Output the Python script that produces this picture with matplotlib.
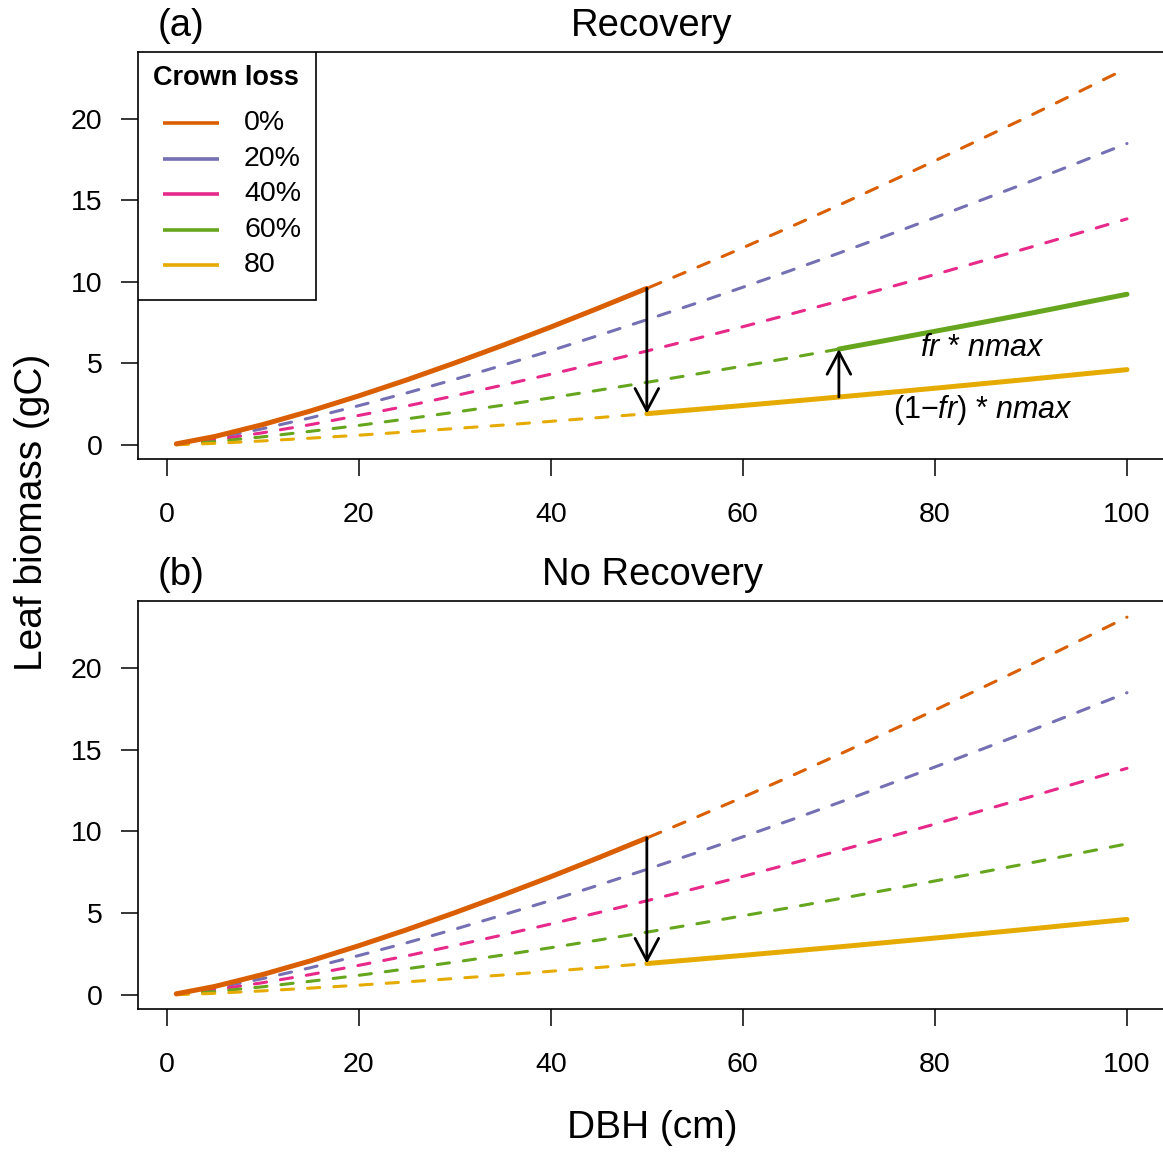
import numpy as np
import matplotlib.pyplot as plt
from matplotlib.patches import Rectangle

plt.rcParams['font.family'] = ['Liberation Sans', 'DejaVu Sans']
plt.rcParams['mathtext.fontset'] = 'custom'
plt.rcParams['mathtext.rm'] = 'Liberation Sans'
plt.rcParams['mathtext.it'] = 'Liberation Sans:italic'

# DBH (cm) and leaf biomass (gC) for each crown-loss level
dbh = [1, 5, 10, 15, 20, 25, 30, 35, 40, 45, 50, 55, 60, 65, 70, 75, 80, 85, 90, 95, 100]
leaf_0 = [0.07, 0.52, 1.25, 2.09, 3.01, 3.99, 5.03, 6.11, 7.23, 8.4, 9.6, 10.83, 12.09, 13.38, 14.7,
          16.05, 17.42, 18.81, 20.21, 21.65, 23.1]
leaf_20 = [0.054, 0.42, 1.0, 1.67, 2.41, 3.19, 4.02, 4.89, 5.78, 6.72, 7.68, 8.66, 9.67, 10.7, 11.76,
           12.84, 13.94, 15.05, 16.17, 17.32, 18.48]
leaf_40 = [0.041, 0.31, 0.75, 1.25, 1.81, 2.39, 3.02, 3.67, 4.34, 5.04, 5.76, 6.5, 7.25, 8.03, 8.82,
           9.63, 10.45, 11.29, 12.13, 12.99, 13.86]
leaf_60 = [0.027, 0.21, 0.5, 0.84, 1.2, 1.6, 2.01, 2.44, 2.89, 3.36, 3.84, 4.33, 4.84, 5.35, 5.88,
           6.42, 6.97, 7.52, 8.08, 8.66, 9.24]
leaf_80 = [0.014, 0.1, 0.25, 0.42, 0.6, 0.8, 1.01, 1.22, 1.45, 1.68, 1.92, 2.17, 2.42, 2.68, 2.94,
           3.21, 3.48, 3.76, 4.04, 4.33, 4.62]

crown_loss = ['0%', '20%', '40%', '60%', '80']
colors = ['#D95F02', '#7570B3', '#E7298A', '#66A61E', '#E6AB02']
x_ticks = [0, 20, 40, 60, 80, 100]
y_ticks = [0, 5, 10, 15, 20]

dbh = np.array(dbh)
series = [np.array(s) for s in (leaf_0, leaf_20, leaf_40, leaf_60, leaf_80)]

W, H = 1163, 1153
fig = plt.figure(figsize=(W / 100, H / 100), dpi=100)

# plot regions in pixels: left, right, top, bottom
A_BOX = (137.7, 1165, 52.3, 458.7)
B_BOX = (137.7, 1165, 601.3, 1008.7)


def px_box(left, right, top, bottom):
    return [left / W, 1 - bottom / H, (right - left) / W, (bottom - top) / H]


ax_a = fig.add_axes(px_box(*A_BOX))
ax_b = fig.add_axes(px_box(*B_BOX))

lw_dash = 2.2
lw_solid = 3.6


def base_panel(ax):
    ax.set_xlim(-3.02, 103.96)
    ax.set_ylim(-0.84, 24.07)
    ax.set_xticks(x_ticks)
    ax.set_yticks(y_ticks)
    ax.tick_params(direction='out', length=12.5, width=1.1, labelsize=20.5)
    ax.tick_params(axis='x', pad=18.5)
    ax.tick_params(axis='y', pad=13)
    for sp in ax.spines.values():
        sp.set_linewidth(1.2)
    # dashed curves for all crown loss levels
    for s, c in zip(series, colors):
        ax.plot(dbh, s, color=c, lw=lw_dash, dashes=(4, 4.6), dash_capstyle='round')
    # undamaged tree up to 50 cm, then 80% crown loss
    m = dbh <= 50
    ax.plot(dbh[m], series[0][m], color=colors[0], lw=lw_solid, solid_capstyle='round')
    m = dbh >= 50
    ax.plot(dbh[m], series[4][m], color=colors[4], lw=lw_solid, solid_capstyle='round')


def arrow(ax, x, y0, y1):
    ax.annotate('', xy=(x, y1), xytext=(x, y0),
                arrowprops=dict(arrowstyle='->,head_length=1.6,head_width=0.85',
                                lw=2.0, color='black', shrinkA=0, shrinkB=0,
                                mutation_scale=10))


i50 = list(dbh).index(50)
i70 = list(dbh).index(70)

# (a) recovery
base_panel(ax_a)
m = dbh >= 70
ax_a.plot(dbh[m], series[3][m], color=colors[3], lw=lw_solid, solid_capstyle='round')
arrow(ax_a, 50, series[0][i50], series[4][i50])
arrow(ax_a, 70, series[4][i70], series[3][i70])
ax_a.text(85, 5.95, r'$\mathit{fr}$ * $\mathit{nmax}$', fontsize=22, ha='center', va='center')
ax_a.text(85, 2.15, r'(1$-\mathit{fr}$) * $\mathit{nmax}$', fontsize=22, ha='center', va='center')

# legend box drawn in axes fraction coordinates
left, right, top, bottom = A_BOX


def fx(px):
    return (px - left) / (right - left)


def fy(py):
    return (bottom - py) / (bottom - top)


ax_a.add_patch(Rectangle((0, fy(300)), fx(316), 1 - fy(300), transform=ax_a.transAxes,
                         facecolor='white', edgecolor='black', lw=1.2, zorder=5))
ax_a.text(fx(226), fy(78), 'Crown loss', transform=ax_a.transAxes, fontsize=19.5,
          fontweight='bold', ha='center', va='center', zorder=6)
row_y = [123, 158.5, 194, 229.5, 265]
for lab, c, ry in zip(crown_loss, colors, row_y):
    ax_a.plot([fx(163), fx(219)], [fy(ry), fy(ry)], color=c, lw=2.6,
              transform=ax_a.transAxes, zorder=6, solid_capstyle='butt')
    ax_a.text(fx(244), fy(ry), lab, transform=ax_a.transAxes, fontsize=20.5,
              ha='left', va='center', zorder=6)

# (b) no recovery
base_panel(ax_b)
arrow(ax_b, 50, series[0][i50], series[4][i50])

fig.text(652 / W, 1 - 36 / H, 'Recovery', fontsize=27.5, ha='center', va='baseline')
fig.text(158 / W, 1 - 36 / H, '(a)', fontsize=27.5, ha='left', va='baseline')
fig.text(652 / W, 1 - 585 / H, 'No Recovery', fontsize=27.5, ha='center', va='baseline')
fig.text(158 / W, 1 - 585 / H, '(b)', fontsize=27.5, ha='left', va='baseline')
fig.text(652 / W, 1 - 1128 / H, 'DBH (cm)', fontsize=28, ha='center', va='center')
fig.text(32 / W, 1 - 512 / H, 'Leaf biomass (gC)', fontsize=28, ha='center', va='center',
         rotation=90)

fig.savefig('out.png', dpi=100)
